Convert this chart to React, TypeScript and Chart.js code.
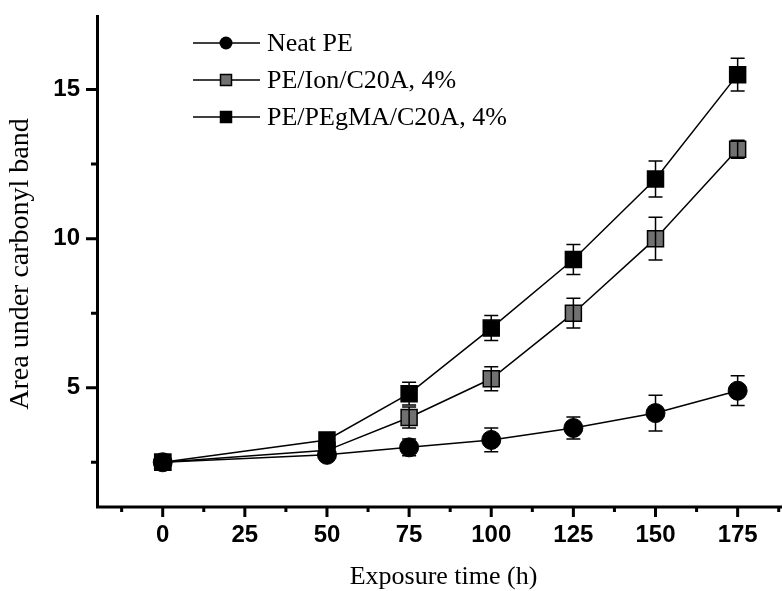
import React, { useEffect, useRef } from "react";
import { Chart, registerables } from "chart.js";

Chart.register(...registerables);

// ---- data ----
const exposureHours = [0, 50, 75, 100, 125, 150, 175];
const neatPE = [2.5, 2.75, 3.0, 3.25, 3.65, 4.15, 4.9];
const neatPEErr = [0, 0, 0.28, 0.4, 0.37, 0.6, 0.5];
const ionC20A = [2.5, 2.9, 4.0, 5.3, 7.5, 10.0, 13.0];
const ionC20AErr = [0, 0, 0.35, 0.4, 0.5, 0.72, 0.3];
const pegmaC20A = [2.5, 3.25, 4.8, 7.0, 9.3, 12.0, 15.5];
const pegmaC20AErr = [0, 0, 0.38, 0.42, 0.5, 0.6, 0.55];

const seriesLabels = ["Neat PE", "PE/Ion/C20A, 4%", "PE/PEgMA/C20A, 4%"];
const xMajorTicks = [0, 25, 50, 75, 100, 125, 150, 175];
const xMinorTicks = [-12.5, 12.5, 37.5, 62.5, 87.5, 112.5, 137.5, 162.5, 187.5];
const yMajorTicks = [5, 10, 15];
const yMinorTicks = [2.5, 7.5, 12.5];
const xTitle = "Exposure time (h)";
const yTitle = "Area under carbonyl band";

const GREY = "#717171";
const SERIF = '"Liberation Serif", "Times New Roman", serif';
const SANS = '"Liberation Sans", Arial, sans-serif';

const errorsByDataset = [neatPEErr, ionC20AErr, pegmaC20AErr];

const zeroPadding = (s: any) => {
  s.paddingTop = 0;
  s.paddingBottom = 0;
  s.paddingLeft = 0;
  s.paddingRight = 0;
};

const framePlugin = {
  id: "framePlugin",
  afterDatasetsDraw(chart: any) {
    const ctx = chart.ctx;
    const xs = chart.scales.x;
    const ys = chart.scales.y;
    ctx.save();
    ctx.strokeStyle = "#000";
    ctx.lineWidth = 1.5;
    chart.data.datasets.forEach((ds: any, di: number) => {
      const errs = errorsByDataset[di];
      ds.data.forEach((p: any, i: number) => {
        const e = errs[i];
        if (!e) return;
        const px = xs.getPixelForValue(p.x);
        const top = ys.getPixelForValue(p.y + e);
        const bot = ys.getPixelForValue(p.y - e);
        ctx.beginPath();
        ctx.moveTo(px, top);
        ctx.lineTo(px, bot);
        ctx.moveTo(px - 7, top);
        ctx.lineTo(px + 7, top);
        ctx.moveTo(px - 7, bot);
        ctx.lineTo(px + 7, bot);
        ctx.stroke();
      });
    });
    ctx.restore();
  },
  afterDraw(chart: any) {
    const ctx = chart.ctx;
    const xs = chart.scales.x;
    const ys = chart.scales.y;
    const { left, right, top, bottom } = chart.chartArea;
    ctx.save();
    ctx.strokeStyle = "#000";
    ctx.lineWidth = 3;
    ctx.lineCap = "butt";
    // axes
    ctx.beginPath();
    ctx.moveTo(left + 0.5, top);
    ctx.lineTo(left + 0.5, bottom + 1.5);
    ctx.moveTo(left - 1, bottom);
    ctx.lineTo(right, bottom);
    ctx.stroke();
    // ticks
    ctx.beginPath();
    xMajorTicks.forEach((v) => {
      const px = xs.getPixelForValue(v);
      ctx.moveTo(px, bottom);
      ctx.lineTo(px, bottom + 10);
    });
    xMinorTicks.forEach((v) => {
      const px = xs.getPixelForValue(v);
      ctx.moveTo(px, bottom);
      ctx.lineTo(px, bottom + 5);
    });
    yMajorTicks.forEach((v) => {
      const py = ys.getPixelForValue(v);
      ctx.moveTo(left, py);
      ctx.lineTo(left - 11, py);
    });
    yMinorTicks.forEach((v) => {
      const py = ys.getPixelForValue(v);
      ctx.moveTo(left, py);
      ctx.lineTo(left - 6, py);
    });
    ctx.stroke();

    // titles
    ctx.fillStyle = "#000";
    ctx.font = `26px ${SERIF}`;
    ctx.textAlign = "center";
    ctx.textBaseline = "middle";
    ctx.fillText(xTitle, (left + right) / 2 + 4, 577);
    ctx.save();
    ctx.translate(21, 264);
    ctx.rotate(-Math.PI / 2);
    ctx.font = `28px ${SERIF}`;
    ctx.fillText(yTitle, 0, 0);
    ctx.restore();

    // legend
    const rows = [43, 80, 117];
    const styles = ["circle", "greySquare", "blackSquare"];
    rows.forEach((ry, i) => {
      ctx.lineWidth = 1.5;
      ctx.beginPath();
      ctx.moveTo(193, ry);
      ctx.lineTo(260, ry);
      ctx.stroke();
      const cx = 226;
      if (styles[i] === "circle") {
        ctx.beginPath();
        ctx.arc(cx, ry, 6.5, 0, Math.PI * 2);
        ctx.fillStyle = "#000";
        ctx.fill();
      } else {
        ctx.fillStyle = styles[i] === "greySquare" ? GREY : "#000";
        ctx.fillRect(cx - 5.5, ry - 5.5, 11, 11);
        ctx.strokeRect(cx - 5.5, ry - 5.5, 11, 11);
      }
      ctx.fillStyle = "#000";
      ctx.font = `26px ${SERIF}`;
      ctx.textAlign = "left";
      ctx.textBaseline = "middle";
      ctx.fillText(seriesLabels[i], 267, ry + 1);
    });
    ctx.restore();
  },
};

export default function App() {
  const canvasRef = useRef<HTMLCanvasElement | null>(null);

  useEffect(() => {
    const canvas = canvasRef.current;
    if (!canvas) return;
    const toPts = (ys: number[]) => exposureHours.map((x, i) => ({ x, y: ys[i] }));
    const chart = new Chart(canvas, {
      type: "line",
      data: {
        datasets: [
          {
            label: seriesLabels[0],
            data: toPts(neatPE),
            borderColor: "#000",
            borderWidth: 1.5,
            backgroundColor: "#000",
            pointStyle: "circle",
            pointRadius: 9.5,
            pointBorderWidth: 1,
            pointBorderColor: "#000",
            pointBackgroundColor: "#000",
            order: 0,
          },
          {
            label: seriesLabels[1],
            data: toPts(ionC20A),
            borderColor: "#000",
            borderWidth: 1.5,
            backgroundColor: GREY,
            pointStyle: "rect",
            pointRadius: 11.3,
            pointBorderWidth: 1.5,
            pointBorderColor: "#000",
            pointBackgroundColor: GREY,
            order: 2,
          },
          {
            label: seriesLabels[2],
            data: toPts(pegmaC20A),
            borderColor: "#000",
            borderWidth: 1.5,
            backgroundColor: "#000",
            pointStyle: "rect",
            pointRadius: 11.3,
            pointBorderWidth: 1.5,
            pointBorderColor: "#000",
            pointBackgroundColor: "#000",
            order: 1,
          },
        ],
      },
      options: {
        animation: false,
        responsive: false,
        devicePixelRatio: 1,
        events: [],
        layout: { autoPadding: false, padding: { top: 15, left: 0, right: 0, bottom: 0 } },
        plugins: { legend: { display: false }, tooltip: { enabled: false } },
        scales: {
          x: {
            type: "linear",
            min: -20,
            max: 188.5,
            afterFit: (s: any) => {
              s.height = 84;
              zeroPadding(s);
            },
            afterBuildTicks: (s: any) => {
              s.ticks = xMajorTicks.map((v) => ({ value: v }));
            },
            grid: { display: false, drawTicks: false },
            border: { display: false },
            ticks: {
              autoSkip: false,
              maxRotation: 0,
              padding: 14,
              color: "#000",
              font: { family: SANS, size: 24, weight: "bold" },
              callback: (v: any) => String(v),
            },
          },
          y: {
            type: "linear",
            min: 1,
            max: 17.5,
            afterFit: (s: any) => {
              s.width = 97;
              zeroPadding(s);
            },
            afterBuildTicks: (s: any) => {
              s.ticks = yMajorTicks.map((v) => ({ value: v }));
            },
            grid: { display: false, drawTicks: false },
            border: { display: false },
            ticks: {
              autoSkip: false,
              padding: 17,
              color: "#000",
              font: { family: SANS, size: 24, weight: "bold" },
              callback: (v: any) => String(v),
            },
          },
        },
      },
      plugins: [framePlugin],
    } as any);
    return () => chart.destroy();
  }, []);

  return (
    <div style={{ position: "fixed", left: 0, top: 0, width: 782, height: 591, background: "#fff" }}>
      <canvas ref={canvasRef} width={782} height={591} style={{ display: "block" }} />
    </div>
  );
}
